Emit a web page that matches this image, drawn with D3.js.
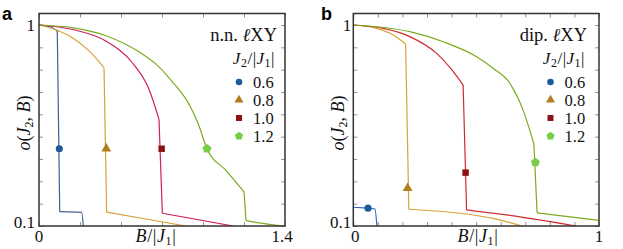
<!DOCTYPE html>
<html>
<head>
<script src="https://d3js.org/d3.v7.min.js"></script>
<title>order parameter</title>
<style>
body {margin:0; background:#fff;}
</style>
</head>
<body>
<div id="myDiv"></div>
<script>
// legend values
const jLabels = ["0.6", "0.8", "1.0", "1.2"];

// panel a: n.n. lXY  -- [B/|J1|, o]
const nn06 = [[0,1],[0.063,0.992],[0.104,0.973],[0.118,0.164],[0.243,0.161],[0.252,0.1]];
const nn08 = [[0,1],[0.114,0.973],[0.19,0.943],[0.285,0.884],[0.37,0.809],[0.385,0.162],[0.632,0.128],[0.837,0.1]];
const nn10 = [[0,1],[0.19,0.98],[0.38,0.928],[0.531,0.831],[0.626,0.712],[0.683,0.577],[0.702,0.157],[1.106,0.1]];
const nn12 = [[0,1],[0.188,0.988],[0.381,0.952],[0.569,0.88],[0.666,0.825],[0.757,0.748],[0.854,0.645],[0.905,0.56],[0.956,0.446],[1.064,0.349],[1.167,0.253],[1.178,0.124],[1.355,0.103],[1.4,0.1]];
const nnKink = [2, 4, 5, 10];
const nnMarkB = [0.1155, 0.383, 0.698, 0.956];
const nnMarkO = [0.446, 0.446, 0.446, 0.446];

// panel b: dip. lXY
const dip06 = [[0,0.184],[0.06,0.18],[0.088,0.176],[0.096,0.1]];
const dip08 = [[0,1],[0.095,0.985],[0.163,0.955],[0.213,0.914],[0.226,0.175],[0.434,0.157],[0.569,0.134],[0.685,0.1]];
const dip10 = [[0,1],[0.122,0.985],[0.23,0.948],[0.339,0.873],[0.407,0.791],[0.447,0.731],[0.461,0.172],[0.691,0.139],[0.908,0.1]];
const dip12 = [[0,1],[0.23,0.97],[0.366,0.925],[0.502,0.858],[0.569,0.806],[0.637,0.739],[0.691,0.619],[0.735,0.467],[0.748,0.159],[1.0,0.125]];
const dipKink = [0, 3, 5, 7];
const dipMarkB = [0.06, 0.221, 0.457, 0.741];
const dipMarkO = [0.180, 0.269, 0.339, 0.385];

const yTickVals = [0.1,0.2,0.3,0.4,0.5,0.6,0.7,0.8,0.9,1.0];
const yTickLabels = [[0.1,"0.1"],[1,"1"]];

// pentagon symbol
const symbolPentagon = {
	draw: function(ctx, size) {
		let r = Math.sqrt(size / (2.5 * Math.sin(2*Math.PI/5)));
		for (let i = 0; i < 5; i++) {
			let a = -Math.PI/2 + i*2*Math.PI/5;
			if (i == 0) ctx.moveTo(r*Math.cos(a), r*Math.sin(a));
			else ctx.lineTo(r*Math.cos(a), r*Math.sin(a));
		}
		ctx.closePath();
	}
};
const symbols = [d3.symbolCircle, d3.symbolTriangle, d3.symbolSquare, symbolPentagon];
const symSize = [40, 42, 42, 52];
const markColors = ["#1d5a98", "#b27d1c", "#8e1212", "#79cc48"];

var svg = d3.select("#myDiv").append("svg")
	.attr("width", 623)
	.attr("height", 249)
	.attr("font-family", "Liberation Serif, Times New Roman, serif");

function drawPanel(opt) {
	let x = d3.scaleLinear().domain(opt.xDomain).range([opt.x0, opt.x1]);
	let y = d3.scaleLinear().domain([0.1, 1]).range([226, 25]);
	let top = 13.5;
	let g = svg.append("g");

	// clip to frame
	let clipId = "clip" + opt.id;
	svg.append("clipPath").attr("id", clipId)
		.append("rect")
		.attr("x", opt.x0).attr("y", top)
		.attr("width", opt.x1 - opt.x0).attr("height", 226 - top);

	// ticks inside frame
	let yl = d3.axisLeft(y).tickValues(yTickVals).tickSize(-4).tickFormat("");
	let yr = d3.axisRight(y).tickValues(yTickVals).tickSize(-4).tickFormat("");
	let xt = d3.axisTop(x).tickValues(opt.xTicks).tickSize(-4).tickFormat("");
	let xb = d3.axisBottom(x).tickValues(opt.xTicks).tickSize(-4).tickFormat("");
	[[yl, "translate(" + opt.x0 + ",0)"], [yr, "translate(" + opt.x1 + ",0)"],
	 [xt, "translate(0," + top + ")"], [xb, "translate(0,226)"]].forEach(function(a) {
		let ax = g.append("g").attr("transform", a[1]).call(a[0]);
		ax.select(".domain").remove();
		ax.selectAll("line").attr("stroke", "#777").attr("stroke-width", 0.8);
	});

	// curves
	let smooth = d3.line().x(d => x(d[0])).y(d => y(d[1])).curve(d3.curveMonotoneX);
	let plot = g.append("g").attr("clip-path", "url(#" + clipId + ")");
	opt.series.forEach(function(s, i) {
		let k = opt.kink[i];
		let parts = [s.slice(0, k + 1), s.slice(k, k + 2), s.slice(k + 1)];
		parts.forEach(function(p) {
			if (p.length < 2) return;
			plot.append("path")
				.attr("d", smooth(p))
				.attr("fill", "none")
				.attr("stroke", opt.lineColors[i])
				.attr("stroke-width", 1.2)
				.attr("stroke-linejoin", "round");
		});
	});

	// markers
	opt.markB.forEach(function(b, i) {
		g.append("path")
			.attr("d", d3.symbol().type(symbols[i]).size(symSize[i]))
			.attr("transform", "translate(" + x(b) + "," + y(opt.markO[i]) + ")")
			.attr("fill", markColors[i]);
	});

	// frame
	g.append("rect")
		.attr("x", opt.x0).attr("y", top)
		.attr("width", opt.x1 - opt.x0).attr("height", 226 - top)
		.attr("fill", "none").attr("stroke", "#333").attr("stroke-width", 1.5);

	// tick labels
	yTickLabels.forEach(function(t) {
		g.append("text")
			.attr("x", opt.x0 - opt.yLabGap)
			.attr("y", y(t[0]) + 5.5 - (t[0] == 0.1 ? 3.5 : 0))
			.attr("text-anchor", "end")
			.attr("font-size", 17)
			.attr("fill", "#111")
			.text(t[1]);
	});
	opt.xLabels.forEach(function(t) {
		g.append("text")
			.attr("x", x(t[0]) + t[2])
			.attr("y", 241.5)
			.attr("text-anchor", "middle")
			.attr("font-size", 17)
			.attr("fill", "#111")
			.text(t[1]);
	});

	// axis titles
	let xl = g.append("text")
		.attr("x", opt.xTitleX).attr("y", 242)
		.attr("text-anchor", "middle")
		.attr("font-size", 18)
		.attr("letter-spacing", 0.6)
		.attr("fill", "#111");
	xl.append("tspan").attr("font-style", "italic").text("B");
	xl.append("tspan").text("/|");
	xl.append("tspan").attr("font-style", "italic").text("J");
	xl.append("tspan").attr("font-size", 12).attr("dy", 3).text("1");
	xl.append("tspan").attr("dy", -3).text("|");

	let yt = g.append("text")
		.attr("transform", "translate(" + (opt.x0 - 9) + ",123) rotate(-90)")
		.attr("text-anchor", "middle")
		.attr("font-size", 18)
		.attr("fill", "#111");
	yt.append("tspan").attr("font-style", "italic").text("o");
	yt.append("tspan").text("(");
	yt.append("tspan").attr("font-style", "italic").text("J");
	yt.append("tspan").attr("font-size", 12).attr("dy", 3).text("2");
	yt.append("tspan").attr("dy", -3).text(", ");
	yt.append("tspan").attr("font-style", "italic").text("B");
	yt.append("tspan").text(")");

	// legend
	let lx = opt.legX;
	let tt = g.append("text")
		.attr("x", opt.titleRight).attr("y", 40.5)
		.attr("text-anchor", "end")
		.attr("font-size", 18.5)
		.attr("fill", "#111");
	tt.append("tspan").text(opt.title + " ");
	tt.append("tspan").attr("font-style", "italic").text("\u2113");
	tt.append("tspan").text("XY");

	let jt = g.append("text")
		.attr("x", opt.titleRight - 2).attr("y", 64)
		.attr("text-anchor", "end")
		.attr("font-size", 17)
		.attr("letter-spacing", 0.5)
		.attr("fill", "#111");
	jt.append("tspan").attr("font-style", "italic").text("J");
	jt.append("tspan").attr("font-size", 12).attr("dy", 3).text("2");
	jt.append("tspan").attr("dy", -3).text("/|");
	jt.append("tspan").attr("font-style", "italic").text("J");
	jt.append("tspan").attr("font-size", 12).attr("dy", 3).text("1");
	jt.append("tspan").attr("dy", -3).text("|");

	jLabels.forEach(function(l, i) {
		let yy = 82 + i * 18;
		g.append("path")
			.attr("d", d3.symbol().type(symbols[i]).size(symSize[i] * 0.85))
			.attr("transform", "translate(" + lx + "," + yy + ")")
			.attr("fill", markColors[i]);
		g.append("text")
			.attr("x", lx + 14).attr("y", yy + 5.5)
			.attr("font-size", 16.5)
			.attr("fill", "#111")
			.text(l);
	});

	// panel letter
	g.append("text")
		.attr("x", opt.letterX).attr("y", 20)
		.attr("font-family", "Liberation Sans, Arial, sans-serif")
		.attr("font-weight", "bold")
		.attr("font-size", 18)
		.text(opt.letter);
}

drawPanel({
	id: "a", letter: "a", letterX: 2,
	x0: 39, x1: 285, xDomain: [0, 1.4],
	xTicks: d3.range(0, 7).map(i => i * 1.4 / 6),
	xLabels: [[0, "0", 0], [1.4, "1.4", -3]],
	xTitleX: 156, yLabGap: 4,
	series: [nn06, nn08, nn10, nn12], kink: nnKink,
	markB: nnMarkB, markO: nnMarkO,
	lineColors: ["#41618f", "#d8a236", "#cc2158", "#7aab1f"],
	title: "n.n.", legX: 239, titleRight: 277
});

drawPanel({
	id: "b", letter: "b", letterX: 321,
	x0: 353.3, x1: 599, xDomain: [0, 1],
	xTicks: d3.range(0, 11).map(i => i / 10),
	xLabels: [[0, "0", 2], [1, "1", 0]],
	xTitleX: 478, yLabGap: 2,
	series: [dip06, dip08, dip10, dip12], kink: dipKink,
	markB: dipMarkB, markO: dipMarkO,
	lineColors: ["#2f5fc8", "#d8a236", "#cf2c2c", "#7aab1f"],
	title: "dip.", legX: 550.5, titleRight: 587
});
</script>
</body>
</html>
